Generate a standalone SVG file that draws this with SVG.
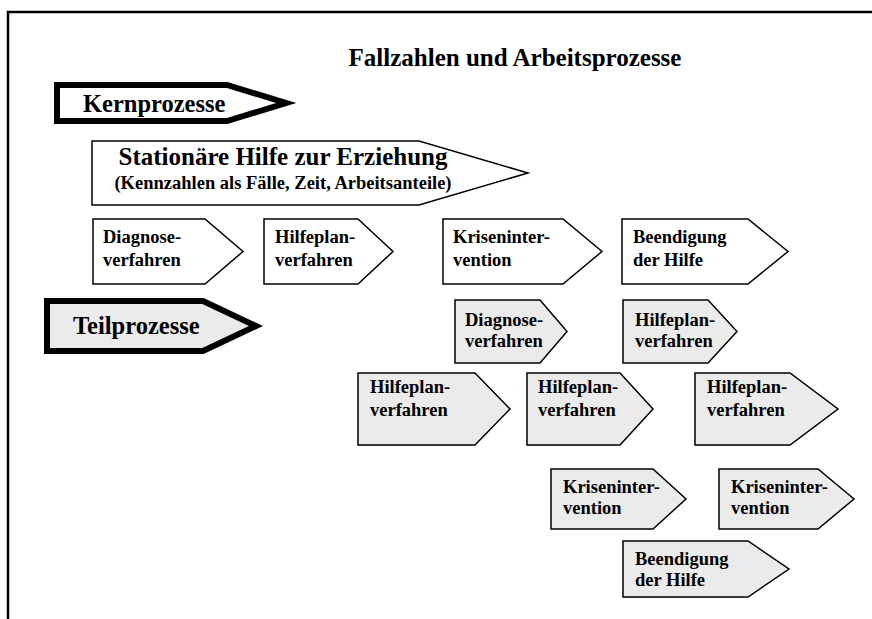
<svg xmlns="http://www.w3.org/2000/svg" width="872" height="619" viewBox="0 0 872 619">
<style>
text{font-family:"Liberation Serif","Times New Roman",serif;font-weight:bold;fill:#000}
.box{fill:#fff;stroke:#000;stroke-width:1.5;stroke-linejoin:miter}
.gray{fill:#ebebeb;stroke:#000;stroke-width:1.5;stroke-linejoin:miter}
.thick{stroke:#000;stroke-width:6;stroke-linejoin:miter}
.t{font-size:18.5px}
.big{font-size:24.5px}
</style>
<rect width="872" height="619" fill="#fff"/>
<g id="frame"><path d="M8 619 V12 H872" fill="none" stroke="#000" stroke-width="2.5"/></g>
<g id="title"><text x="515" y="66" font-size="25" text-anchor="middle">Fallzahlen und Arbeitsprozesse</text></g>
<g id="kernprozesse"><path class="thick" fill="#fff" d="M57 85 H227 L286 103 L227 121 H57 Z"/><text class="big" x="83" y="112">Kernprozesse</text></g>
<g id="stationaere-hilfe"><path class="box" d="M92 141 H419 L528 173 L419 205 H92 Z"/><text x="283" y="165" font-size="25" text-anchor="middle">Stationäre Hilfe zur Erziehung</text><text x="283" y="189" font-size="18.5" text-anchor="middle">(Kennzahlen als Fälle, Zeit, Arbeitsanteile)</text></g>
<g id="k-diagnose"><path class="box" d="M93 219 H205 L243 251.5 L205 284 H93 Z"/><text class="t" x="103" y="243">Diagnose-</text><text class="t" x="103" y="266">verfahren</text></g>
<g id="k-hilfeplan"><path class="box" d="M264 219 H358 L393 251.5 L358 284 H264 Z"/><text class="t" x="275" y="243">Hilfeplan-</text><text class="t" x="275" y="266">verfahren</text></g>
<g id="k-krise"><path class="box" d="M443 219 H563 L602 251.5 L563 284 H443 Z"/><text class="t" x="453" y="243">Kriseninter-</text><text class="t" x="453" y="266">vention</text></g>
<g id="k-beendigung"><path class="box" d="M622 219 H748 L788 251.5 L748 284 H622 Z"/><text class="t" x="633" y="243">Beendigung</text><text class="t" x="633" y="266">der Hilfe</text></g>
<g id="teilprozesse"><path class="thick" fill="#ebebeb" d="M47 301 H203 L256 326 L203 351 H47 Z"/><text class="big" x="73" y="334">Teilprozesse</text></g>
<g id="t-diagnose"><path class="gray" d="M455 300 H540 L567 331.5 L540 363 H455 Z"/><text class="t" x="465" y="326">Diagnose-</text><text class="t" x="465" y="347">verfahren</text></g>
<g id="t-hilfeplan-1"><path class="gray" d="M623 300 H708 L737 331.5 L708 363 H623 Z"/><text class="t" x="635" y="326">Hilfeplan-</text><text class="t" x="635" y="347">verfahren</text></g>
<g id="t-hilfeplan-2"><path class="gray" d="M358 373 H475 L510 409 L475 445 H358 Z"/><text class="t" x="370" y="393">Hilfeplan-</text><text class="t" x="370" y="416">verfahren</text></g>
<g id="t-hilfeplan-3"><path class="gray" d="M527 373 H620 L653 409 L620 445 H527 Z"/><text class="t" x="538" y="393">Hilfeplan-</text><text class="t" x="538" y="416">verfahren</text></g>
<g id="t-hilfeplan-4"><path class="gray" d="M695 373 H790 L838 409 L790 445 H695 Z"/><text class="t" x="707" y="393">Hilfeplan-</text><text class="t" x="707" y="416">verfahren</text></g>
<g id="t-krise-1"><path class="gray" d="M551 469 H653 L686 499 L653 529 H551 Z"/><text class="t" x="563" y="493">Kriseninter-</text><text class="t" x="563" y="514">vention</text></g>
<g id="t-krise-2"><path class="gray" d="M719 469 H818 L854 499 L818 529 H719 Z"/><text class="t" x="731" y="493">Kriseninter-</text><text class="t" x="731" y="514">vention</text></g>
<g id="t-beendigung"><path class="gray" d="M623 541 H748 L789 569 L748 597 H623 Z"/><text class="t" x="635" y="565">Beendigung</text><text class="t" x="635" y="586">der Hilfe</text></g>
<g id="connectors"/>
</svg>
